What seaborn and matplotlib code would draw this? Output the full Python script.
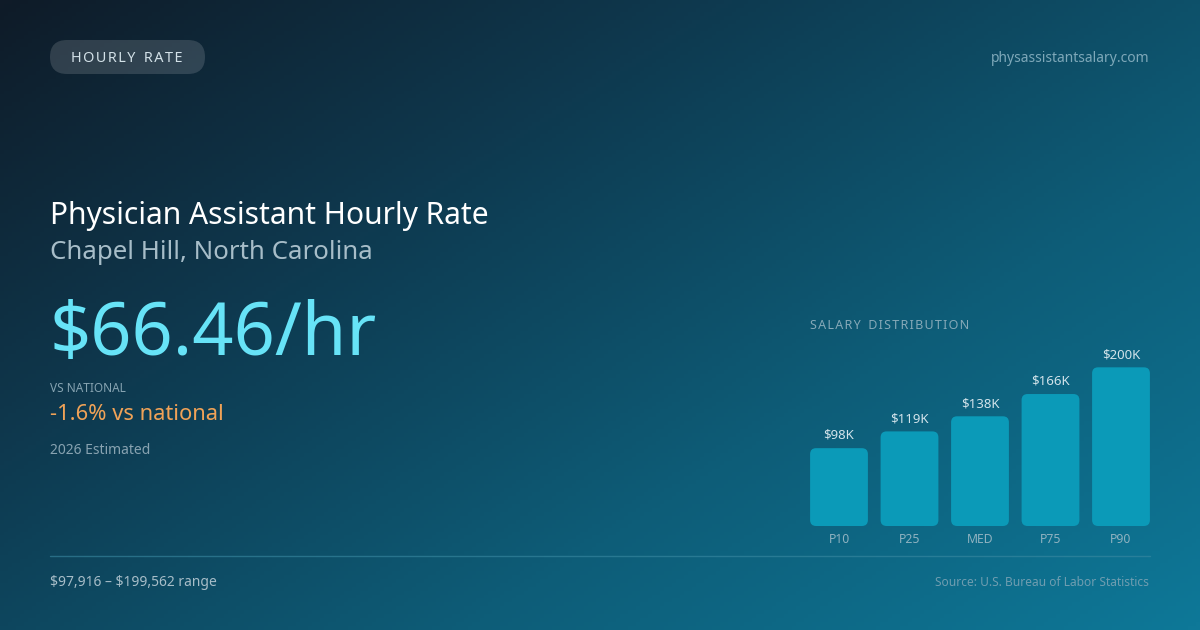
import numpy as np
import pandas as pd
import seaborn as sns
import matplotlib.pyplot as plt
from matplotlib.patches import FancyBboxPatch
from matplotlib.colors import LinearSegmentedColormap

# data
percentiles = ["P10", "P25", "MED", "P75", "P90"]
salary_k = [97.9, 119, 138, 166, 199.6]
value_labels = ["$98K", "$119K", "$138K", "$166K", "$200K"]

sns.set_theme(style="white")
plt.rcParams['font.family'] = ['Noto Sans', 'DejaVu Sans']

W, H = 1200, 630
fig = plt.figure(figsize=(12, 6.3), dpi=100)


def px(x, y):
    return x / W, 1 - y / H


def spaced(s, gap="\u200a"):
    # fake letter spacing with hair spaces
    return gap.join(s).replace(gap + " " + gap, "\u2009 \u2009")


# background gradient
bg = fig.add_axes([0, 0, 1, 1])
gx, gy = np.meshgrid(np.linspace(0, 1, 300), np.linspace(0, 1, 160))
t = np.clip(0.55 * gx + 0.45 * gy, 0, 1)
cmap = LinearSegmentedColormap.from_list("bg", ["#0f1b28", "#0e3a50", "#0d5d78", "#0e7898"])
bg.imshow(t, cmap=cmap, aspect="auto", extent=[0, 1, 0, 1], origin="upper")
bg.set_xlim(0, 1)
bg.set_ylim(0, 1)
bg.axis("off")

# pill
x0, y0 = px(50, 74)
pill = FancyBboxPatch((x0, y0), 155 / W, 34 / H,
                      boxstyle="round,pad=0,rounding_size=0.0142",
                      mutation_aspect=W / H,
                      transform=fig.transFigure, facecolor="white", alpha=0.14,
                      edgecolor="none")
fig.patches.append(pill)
fig.text(*px(126.5, 58), spaced("HOURLY RATE"),
         color="#d3e1e8", fontsize=10.4, ha="center", va="center")

fig.text(*px(1149, 59), "physassistantsalary.com", color="#7ea8b9", fontsize=10,
         ha="right", va="center")

# headline texts
fig.text(*px(50, 224), "Physician Assistant Hourly Rate", color="white", fontsize=21.6,
         ha="left", va="baseline")
fig.text(*px(50, 259), "Chapel Hill, North Carolina", color="#a7bdc8", fontsize=18.6,
         ha="left", va="baseline")
fig.text(*px(49, 355), "$66.46/hr", color="#67e3f7", fontsize=52,
         ha="left", va="baseline", parse_math=False)
fig.text(*px(50, 388), "VS NATIONAL", color="#86a3b1", fontsize=8.5,
         ha="left", va="center")
fig.text(*px(50, 415), "-1.6% vs national", color="#f0a257", fontsize=15.8,
         ha="left", va="center")
fig.text(*px(50, 450), "2026 Estimated", color="#88a3b1", fontsize=10,
         ha="left", va="center")

# footer
fig.add_artist(plt.Line2D([50 / W, 1150 / W], [1 - 556 / H] * 2, color="#3b8aa2",
                          lw=1, alpha=0.6, transform=fig.transFigure))
fig.text(*px(50, 582), "$97,916 \u2013 $199,562 range", color="#a7bdc8", fontsize=10,
         ha="left", va="center", parse_math=False)
fig.text(*px(1149, 582), "Source: U.S. Bureau of Labor Statistics", color="#6f9db0",
         fontsize=8.6, ha="right", va="center")

# salary distribution bars
fig.text(*px(810, 325), spaced("SALARY DISTRIBUTION"),
         color="#86a9b8", fontsize=9, ha="left", va="center")

ymax = 250
ax_h = ymax * 0.795
ax = fig.add_axes([803.75 / W, (H - 526) / H, 352.5 / W, ax_h / H])
df = pd.DataFrame({"pct": percentiles, "salary": salary_k})
sns.barplot(data=df, x="pct", y="salary", ax=ax, color="#0b9ab8", width=0.82,
            saturation=1)
ax.set_ylim(0, ymax)
ax.set_xlim(-0.5, 4.5)
ax.patch.set_alpha(0)
for s in ax.spines.values():
    s.set_visible(False)
ax.set_xlabel("")
ax.set_ylabel("")
ax.set_yticks([])
ax.tick_params(axis="x", length=0, pad=5, labelsize=8.8, labelcolor="#8fb2c0")

# rounded bars
aspect = (ymax / ax_h) * 70.5
for p in list(ax.patches):
    x, y, w, h = p.get_x(), p.get_y(), p.get_width(), p.get_height()
    fc = p.get_facecolor()
    p.remove()
    ax.add_patch(FancyBboxPatch((x, y), w, h,
                                boxstyle="round,pad=0,rounding_size=0.085",
                                mutation_aspect=aspect, facecolor=fc,
                                edgecolor="none"))
for i, (v, lab) in enumerate(zip(salary_k, value_labels)):
    ax.annotate(lab, (i, v), xytext=(0, 4.5), textcoords="offset points",
                ha="center", va="bottom", color="#d2e3ea", fontsize=9.5,
                parse_math=False)

fig.savefig("out.png", dpi=100)
